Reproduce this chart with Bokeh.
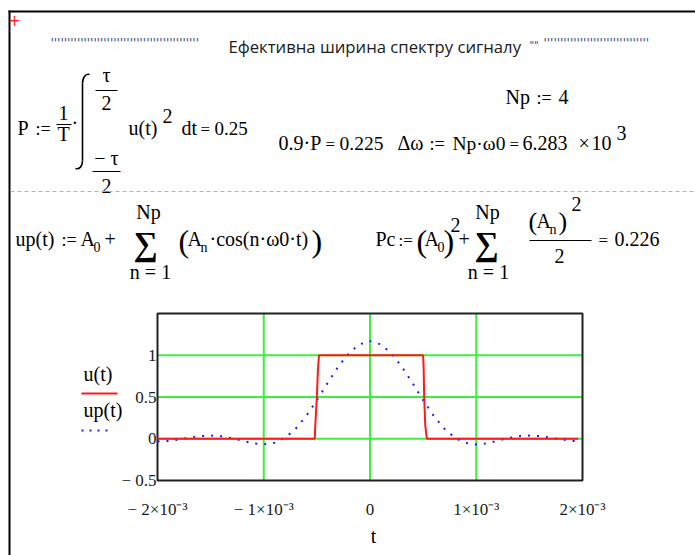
from bokeh.plotting import figure
from bokeh.models import Range1d, LinearAxis, FixedTicker, CustomJSTickFormatter
from bokeh.core.properties import value
from bokeh.embed import file_html
from bokeh.resources import INLINE

# ---------------- data ----------------
# rectangular pulse u(t), tau = 1 ms, period T = 4 ms
T_U = [-2.0e-3, -0.52e-3, -0.515e-3, -0.50e-3, -0.49e-3, -0.48e-3,
       0.50e-3, 0.505e-3, 0.51e-3, 0.52e-3, 0.535e-3, 1.96e-3]
U_VALUES = [0.0, 0.0, 0.16, 0.5, 0.83, 1.0,
            1.0, 0.84, 0.5, 0.16, 0.0, 0.0]

# partial Fourier sum up(t) with Np = 4 harmonics
T_UP = [-2.0e-3, -1.9e-3, -1.8e-3, -1.7e-3, -1.6e-3, -1.5e-3, -1.4e-3, -1.3e-3,
        -1.2e-3, -1.1e-3, -1.0e-3, -0.9e-3, -0.8e-3, -0.7e-3, -0.6e-3, -0.5e-3,
        -0.4e-3, -0.3e-3, -0.2e-3, -0.1e-3, 0.0, 0.1e-3, 0.2e-3, 0.3e-3, 0.4e-3,
        0.5e-3, 0.6e-3, 0.7e-3, 0.8e-3, 0.9e-3, 1.0e-3, 1.1e-3, 1.2e-3, 1.3e-3,
        1.4e-3, 1.5e-3, 1.6e-3, 1.7e-3, 1.8e-3, 1.9e-3, 1.96e-3]
UP_VALUES = [-0.032, -0.026, -0.009, 0.013, 0.031, 0.038, 0.030, 0.007,
             -0.025, -0.055, -0.068, -0.050, 0.010, 0.119, 0.273, 0.462,
             0.666, 0.862, 1.024, 1.131, 1.169, 1.131, 1.024, 0.862, 0.666,
             0.462, 0.273, 0.119, 0.010, -0.050, -0.068, -0.055, -0.025, 0.007,
             0.030, 0.038, 0.031, 0.013, -0.009, -0.026, -0.031]

X_TICKS = [-2e-3, -1e-3, 0.0, 1e-3, 2e-3]
X_TICK_LABELS = ["\u2212 2\u00d710\u207b\u00b3", "\u2212 1\u00d710\u207b\u00b3", "0",
                 "1\u00d710\u207b\u00b3", "2\u00d710\u207b\u00b3"]
Y_TICKS = [-0.5, 0.0, 0.5, 1.0]
Y_TICK_LABELS = ["\u2212 0.5", "0", "0.5", "1"]
X_LIMITS = (-2e-3, 2e-3)
Y_LIMITS = (-0.5, 1.5)

# ---------------- page geometry ----------------
W, H = 695, 555
FRAME_L, FRAME_R, FRAME_T, FRAME_B = 157, 582, 313, 480
SERIF = "Liberation Serif"
SANS = "Open Sans"
GREEN = "#3cf03c"
EQ = 17                 # "=" and ":=" are set a little smaller than the symbols
BASELINE_SHIFT = 0.37   # svg text sits this many em below the requested alphabetic line

# data units per pixel for the plot region
kx = (X_LIMITS[1] - X_LIMITS[0]) / (FRAME_R - FRAME_L)
ky = (Y_LIMITS[1] - Y_LIMITS[0]) / (FRAME_B - FRAME_T)

p = figure(width=W, height=H, output_backend="svg", toolbar_location=None,
           x_range=Range1d(0, W), y_range=Range1d(H, 0),
           x_axis_location=None, y_axis_location=None, min_border=0,
           outline_line_color=None, background_fill_color="white",
           border_fill_color="white")
p.grid.visible = False
p.extra_x_ranges = {"t": Range1d(X_LIMITS[0] - FRAME_L * kx,
                                 X_LIMITS[0] + (W - FRAME_L) * kx)}
p.extra_y_ranges = {"u": Range1d(Y_LIMITS[0] - (H - FRAME_B) * ky,
                                 Y_LIMITS[1] + FRAME_T * ky)}


def txt(x, y, s, size=20, font=SERIF, align="left", color="black", style="normal"):
    """Place text s with its alphabetic baseline at page pixel (x, y)."""
    p.text(x=[x], y=[y - BASELINE_SHIFT * size], text=[s], text_font=value(font),
           text_font_size=f"{size}px", text_align=align, text_baseline="alphabetic",
           text_color=color, text_font_style=style)


def hbar(x0, x1, y, width=1.2, color="black", dash="solid"):
    p.segment(x0=[x0], y0=[y], x1=[x1], y1=[y], line_width=width,
              line_color=color, line_dash=dash)


# worksheet frame and cursor
p.segment(x0=[8, 9], y0=[11, 10], x1=[W, 9], y1=[11, H], line_width=2, line_color="black")
txt(14, 25, "+", size=15, font="DejaVu Sans", align="center", color="#ff2020")

# heading
txt(50, 47, "'" * 45, size=12, font="DejaVu Sans", color="#3a4a80")
txt(228, 52, "Ефективна ширина спектру сигналу", size=16.7, font=SANS, color="#202020")
txt(529, 49, '""', size=10, font="DejaVu Sans", color="#3a4a80")
txt(543, 47, "'" * 32, size=12, font="DejaVu Sans", color="#3a4a80")

# P := 1/T * integral u(t)^2 dt = 0.25
R1 = 135
txt(17, R1, "P")
txt(35, R1, ":=", size=EQ + 1)
txt(63, 120, "1", align="center")
hbar(56, 71, 124)
txt(63, 141, "T", align="center")
txt(71, 130, "·")
p.bezier(x0=[82], y0=[83], x1=[89], y1=[74], cx0=[82], cy0=[76], cx1=[86], cy1=[73],
         line_width=1.6, line_color="black")
p.segment(x0=[82], y0=[83], x1=[82], y1=[160], line_width=1.6, line_color="black")
p.bezier(x0=[82], y0=[160], x1=[75], y1=[168], cx0=[82], cy0=[166], cx1=[79], cy1=[169],
         line_width=1.6, line_color="black")
txt(106, 82, "τ", align="center")
hbar(95, 117, 90)
txt(106, 110, "2", align="center")
txt(106, 165, "− τ", align="center")
hbar(92, 120, 171)
txt(106, 193, "2", align="center")
txt(128, R1, "u(t)")
txt(162, 123, "2")
txt(181, R1, "dt")
txt(200, R1, "=", size=EQ)
txt(214, R1, "0.25", size=19)

# Np, power share and bandwidth
txt(505, 104, "Np")
txt(536, 104, ":=", size=EQ + 1)
txt(558, 104, "4")
R1B = 150
txt(278, R1B, "0.9·P")
txt(325, R1B, "=", size=EQ)
txt(339, R1B, "0.225", size=19.5)
txt(397, R1B, "Δω")
txt(429, R1B, ":=", size=EQ + 1)
txt(452, R1B, "Np·ω0", size=19.5)
txt(509, R1B, "=", size=EQ)
txt(522, R1B, "6.283")
txt(578, R1B, "×")
txt(591, R1B, "10")
txt(616, 140, "3")

hbar(10, W, 191, width=1, color="#b4b4b4", dash="4 3")

# up(t) := A0 + sum An cos(n w0 t)
BL = 246
txt(15, BL, "up(t)")
txt(61, BL, ":=", size=EQ + 1)
txt(80, BL, "A")
txt(93, BL + 6, "0", size=14)
txt(104, BL, "+")
txt(145, 256, "∑", size=34, align="center", style="bold")
txt(148, 219, "Np", align="center")
txt(150, 279, "n = 1", align="center")
txt(178, 252, "(", size=32)
txt(187, BL, "A")
txt(200, BL + 6, "n", size=14)
txt(209, BL, "·cos(n·ω0·t)")
txt(311, 252, ")", size=32)

# Pc := A0^2 + sum An^2/2 = 0.226
txt(375, BL, "Pc")
txt(398, BL, ":=", size=EQ)
txt(416, 252, "(", size=32)
txt(424, BL, "A")
txt(437, BL + 6, "0", size=14)
txt(443, 252, ")", size=32)
txt(450, 232, "2")
txt(458, BL, "+")
txt(486, 256, "∑", size=34, align="center", style="bold")
txt(487, 219, "Np", align="center")
txt(488, 279, "n = 1", align="center")
txt(528, 231, "(", size=26)
txt(536, 228, "A")
txt(549, 234, "n", size=14)
txt(558, 231, ")", size=26)
txt(571, 211, "2")
hbar(529, 591, 240)
txt(559, 263, "2", align="center")
txt(598, BL, "=", size=EQ)
txt(614, BL, "0.226")

# ---------------- plot ----------------
xs = dict(x_range_name="t", y_range_name="u")
X_GRID = X_TICKS[1:-1]
Y_GRID = Y_TICKS[1:]
p.segment(x0=X_GRID, x1=X_GRID, y0=[Y_LIMITS[0]] * len(X_GRID), y1=[Y_LIMITS[1]] * len(X_GRID),
          line_color=GREEN, line_width=2, **xs)
p.segment(x0=[X_LIMITS[0]] * len(Y_GRID), x1=[X_LIMITS[1]] * len(Y_GRID), y0=Y_GRID, y1=Y_GRID,
          line_color=GREEN, line_width=2, **xs)
p.quad(left=[X_LIMITS[0]], right=[X_LIMITS[1]], bottom=[Y_LIMITS[0]], top=[Y_LIMITS[1]],
       fill_color=None, line_color="#202020", line_width=2, **xs)
p.line(T_UP, UP_VALUES, line_color="#1a1aff", line_width=2, line_dash="2 7", **xs)
p.line(T_U, U_VALUES, line_color="#ff1a1a", line_width=2, **xs)

TICK_JS = """
const i = vals.findIndex((v) => Math.abs(v - tick) < 1e-12);
return i >= 0 ? labs[i] : "";
"""
axis_style = dict(axis_line_color=None, major_tick_line_color=None, minor_tick_line_color=None,
                  major_tick_in=0, major_tick_out=0, major_label_text_font=SERIF,
                  major_label_text_font_size="17px", major_label_text_color="#202020")
xaxis = LinearAxis(x_range_name="t", y_range_name="u", fixed_location=Y_LIMITS[0],
                   ticker=FixedTicker(ticks=X_TICKS),
                   formatter=CustomJSTickFormatter(args=dict(vals=X_TICKS, labs=X_TICK_LABELS),
                                                   code=TICK_JS),
                   major_label_standoff=19, **axis_style)
p.add_layout(xaxis, "below")
yaxis = LinearAxis(x_range_name="t", y_range_name="u", fixed_location=X_LIMITS[0],
                   ticker=FixedTicker(ticks=Y_TICKS),
                   formatter=CustomJSTickFormatter(args=dict(vals=Y_TICKS, labs=Y_TICK_LABELS),
                                                   code=TICK_JS),
                   major_label_standoff=1, **axis_style)
p.add_layout(yaxis, "left")

# axis title and legend
txt(373, 543, "t", align="center")
txt(83, 381, "u(t)")
p.segment(x0=[81], y0=[393], x1=[117], y1=[393], line_color="#ff1a1a", line_width=2)
txt(83, 417, "up(t)")
p.segment(x0=[81], y0=[430], x1=[111], y1=[430], line_color="#1a1aff", line_width=2,
          line_dash="2 6")

open("out.html", "w").write(file_html(p, INLINE))
